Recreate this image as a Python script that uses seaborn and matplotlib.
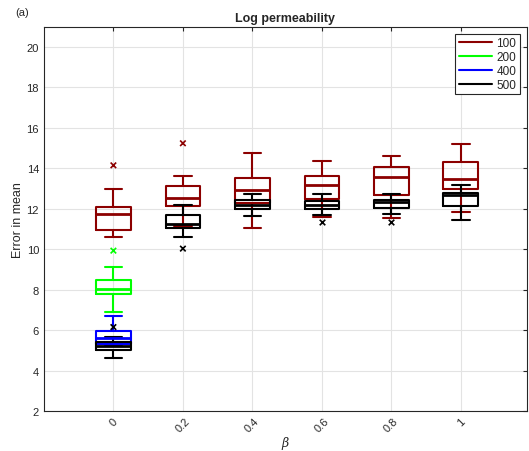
import numpy as np
import pandas as pd
import matplotlib
matplotlib.use("Agg")
import matplotlib.pyplot as plt
from matplotlib.lines import Line2D
import seaborn as sns

# ---------------- data ----------------
betas = ["0", "0.2", "0.4", "0.6", "0.8", "1"]
series = ["100", "200", "400", "500"]
colors = {"100": "#8c0000", "200": "#00ff00", "400": "#0000ff", "500": "#000000"}

# five-number summaries: lower whisker, q1, median, q3, upper whisker
n100_low = [10.59, 11.16, 11.06, 11.60, 11.52, 11.83]
n100_q1  = [10.94, 12.13, 12.30, 12.49, 12.69, 12.96]
n100_med = [11.73, 12.51, 12.92, 13.20, 13.59, 13.48]
n100_q3  = [12.08, 13.12, 13.53, 13.62, 14.05, 14.31]
n100_up  = [12.96, 13.62, 14.76, 14.36, 14.63, 15.19]

n200_low = [6.89]
n200_q1  = [7.80]
n200_med = [8.03]
n200_q3  = [8.48]
n200_up  = [9.14]

n400_low = [5.20]
n400_q1  = [5.30]
n400_med = [5.63]
n400_q3  = [5.98]
n400_up  = [6.71]

n500_low = [4.64, 10.59, 11.64, 11.68, 11.72, 11.47]
n500_q1  = [5.02, 11.06, 11.97, 12.00, 12.05, 12.13]
n500_med = [5.21, 11.26, 12.21, 12.20, 12.34, 12.68]
n500_q3  = [5.40, 11.68, 12.41, 12.38, 12.44, 12.78]
n500_up  = [5.68, 12.18, 12.72, 12.72, 12.74, 13.18]

# outliers
out_series = ["100", "100", "200", "500", "500", "500", "500"]
out_beta   = ["0", "0.2", "0", "0", "0.2", "0.6", "0.8"]
out_value  = [14.15, 15.24, 9.93, 6.15, 10.03, 11.37, 11.35]

summ = {
    "100": (betas, n100_low, n100_q1, n100_med, n100_q3, n100_up),
    "200": (betas[:1], n200_low, n200_q1, n200_med, n200_q3, n200_up),
    "400": (betas[:1], n400_low, n400_q1, n400_med, n400_q3, n400_up),
    "500": (betas, n500_low, n500_q1, n500_med, n500_q3, n500_up),
}

rows = []
for s, (bs, lo, q1, md, q3, up) in summ.items():
    for i, b in enumerate(bs):
        for v in (lo[i], q1[i], md[i], q3[i], up[i]):
            rows.append({"beta": b, "N": s, "err": v})
df = pd.DataFrame(rows)
dfo = pd.DataFrame({"beta": out_beta, "N": out_series, "err": out_value})

# ---------------- plot ----------------
sns.set_theme(style="whitegrid")
plt.rcParams["font.family"] = ["Liberation Sans", "DejaVu Sans"]
plt.rcParams["mathtext.fontset"] = "dejavuserif"

fig = plt.figure(figsize=(5.29, 4.52), dpi=100)
ax = fig.add_axes([0.083, 0.0885, 0.913, 0.85])

sns.boxplot(data=df, x="beta", y="err", hue="N", order=betas, hue_order=series,
            palette=colors, dodge=False, fill=False, width=0.5, whis=(0, 100),
            linewidth=1.5, medianprops=dict(linewidth=2.0), showfliers=False,
            legend=False, ax=ax)
sns.stripplot(data=dfo, x="beta", y="err", hue="N", order=betas, hue_order=series,
              palette=colors, dodge=False, jitter=False, marker="x", s=4,
              linewidth=1.2, legend=False, ax=ax)

ax.set_xlim(-1, 5.95)
ax.set_ylim(2, 21)
ax.set_yticks(np.arange(2, 21, 2))
ax.set_xticks(range(len(betas)))
ax.set_xticklabels(betas, rotation=45, fontsize=8, color="#262626")
ax.tick_params(axis="y", labelsize=8, labelcolor="#262626")
ax.tick_params(direction="in", top=True, right=True, length=3, width=0.8, color="#262626")
ax.grid(True, color="#e3e3e3", linewidth=0.8)
for sp in ax.spines.values():
    sp.set_color("#262626")
    sp.set_linewidth(0.8)

ax.set_xlabel(r"$\beta$", fontsize=9, color="#262626", labelpad=0)
ax.set_ylabel("Error in mean", fontsize=9, color="#262626", labelpad=2)
ax.set_title("Log permeability", fontsize=9, fontweight="bold", pad=4)
fig.text(0.028, 0.965, "(a)", fontsize=8, color="#262626")

handles = [Line2D([0], [0], color=colors[s], lw=1.5) for s in series]
leg = ax.legend(handles, series, loc="upper right", fontsize=8.5, frameon=True,
                fancybox=False, edgecolor="#262626", framealpha=1,
                borderpad=0.3, labelspacing=0.15, handlelength=2.8,
                handletextpad=0.4, borderaxespad=0.6)
leg.get_frame().set_linewidth(0.8)

fig.savefig("out.png", dpi=100)
